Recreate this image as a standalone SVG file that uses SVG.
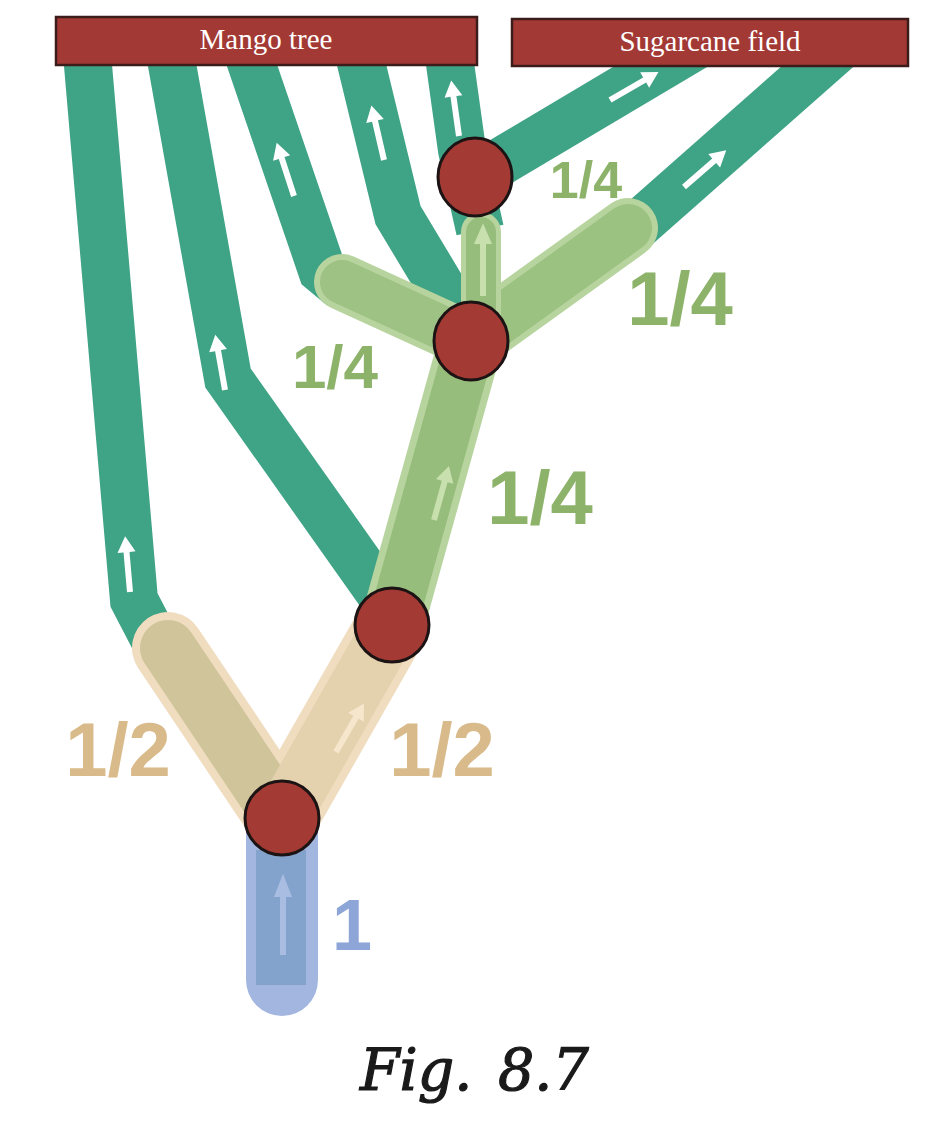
<svg xmlns="http://www.w3.org/2000/svg" xmlns:xlink="http://www.w3.org/1999/xlink" width="944" height="1133" viewBox="0 0 944 1133">
<style>
.teal{fill:none;stroke:#3fa386;stroke-width:48;stroke-linejoin:miter;stroke-linecap:butt}
.tanO{fill:none;stroke:#f0dcbf;stroke-width:72;stroke-linecap:round}
.tanI{fill:none;stroke:#d6c69d;stroke-width:56;stroke-linecap:round}
.grnO{fill:none;stroke:#b7d49f;stroke-linecap:round}
.grnI{fill:none;stroke:#96bd7c;stroke-linecap:round}
.node{fill:#a33a34;stroke:#1c1414;stroke-width:3}
.box{fill:#a33934;stroke:#3b1c1a;stroke-width:2.5}
.boxt{font-family:"Liberation Serif","DejaVu Serif",serif;font-size:29px;fill:#ffffff;text-anchor:middle}
.frac{font-family:"Liberation Sans",Arial,sans-serif;font-weight:bold;text-anchor:middle}
.g{fill:#8db36a}
.t{fill:#d9ba8a}
.b{fill:#8ea5d8}
</style>
<defs>
<path id="arr" d="M-3,0 L-3,-40 L-9,-40 L0,-56 L9,-40 L3,-40 L3,0 Z"/>
</defs>

<g id="connectors">
  <!-- teal flows -->
  <polyline class="teal" points="86,42 134,600 160,650"/>
  <polyline class="teal" points="168,42 228,378 385,600"/>
  <polyline class="teal" points="244,42 322,270 340,285"/>
  <polyline class="teal" points="356,42 398,215 455,310"/>
  <polyline class="teal" points="447,42 462,150 480,230"/>
  <polyline class="teal" points="475,177 702,42"/>
  <polyline class="teal" points="630,232 843,44"/>

  <!-- tan branches -->
  <line class="tanO" x1="282" y1="818" x2="168" y2="648"/>
  <line class="tanO" x1="282" y1="818" x2="392" y2="625"/>
  <line class="tanI" x1="282" y1="818" x2="168" y2="648" style="stroke:#cfc49a"/>
  <line class="tanI" x1="282" y1="818" x2="392" y2="625" style="stroke:#e4d2ae"/>

  <!-- green branches -->
  <line class="grnO" x1="392" y1="625" x2="471" y2="341" stroke-width="64"/>
  <line class="grnI" x1="392" y1="625" x2="471" y2="341" stroke-width="50"/>
  <line class="grnO" x1="471" y1="341" x2="342" y2="282" stroke-width="56"/>
  <line class="grnI" x1="471" y1="341" x2="342" y2="282" stroke-width="44" style="stroke:#9dc283"/>
  <line class="grnO" x1="471" y1="341" x2="628" y2="228" stroke-width="60"/>
  <line class="grnI" x1="471" y1="341" x2="628" y2="228" stroke-width="48" style="stroke:#9cc282"/>
  <line class="grnO" x1="481" y1="341" x2="481" y2="232" stroke-width="40"/>
  <line class="grnI" x1="481" y1="341" x2="481" y2="232" stroke-width="30"/>

  <!-- blue stem -->
  <path d="M246,818 L246,980 A36,36 0 0 0 318,980 L318,818 Z" fill="#a3b6e0"/>
  <rect x="256" y="850" width="50" height="135" fill="#84a3cc"/>

  <!-- arrows -->
  <g fill="#ffffff">
    <use xlink:href="#arr" transform="translate(130,592) rotate(-5)"/>
    <use xlink:href="#arr" transform="translate(225,390) rotate(-10)"/>
    <use xlink:href="#arr" transform="translate(294,196) rotate(-18)"/>
    <use xlink:href="#arr" transform="translate(384,160) rotate(-13)"/>
    <use xlink:href="#arr" transform="translate(459,136) rotate(-8)"/>
    <use xlink:href="#arr" transform="translate(610,100) rotate(60)"/>
    <use xlink:href="#arr" transform="translate(684,187) rotate(49)"/>
  </g>
  <use xlink:href="#arr" transform="translate(434,520) rotate(15.5)" fill="#c8dfae"/>
  <use xlink:href="#arr" transform="translate(483,296) scale(1,1.3)" fill="#c8dfae"/>
  <use xlink:href="#arr" transform="translate(336,752) rotate(30)" fill="#f5e6cc"/>
  <use xlink:href="#arr" transform="translate(283,955) scale(1,1.45)" fill="#a9bde2"/>
</g>

<g id="mango-tree">
  <rect class="box" x="56" y="17" width="421" height="48"/>
  <text class="boxt" x="266" y="49">Mango tree</text>
</g>
<g id="sugarcane-field">
  <rect class="box" x="512" y="19" width="396" height="47"/>
  <text class="boxt" x="710" y="51">Sugarcane field</text>
</g>

<g id="node1"><circle class="node" cx="282" cy="818" r="37"/></g>
<g id="node2"><circle class="node" cx="392" cy="625" r="37"/></g>
<g id="node3"><ellipse class="node" cx="471" cy="341" rx="37" ry="39"/></g>
<g id="node4"><ellipse class="node" cx="475" cy="177" rx="37" ry="39"/></g>

<g id="labels">
  <text class="frac b" x="352" y="950" font-size="72">1</text>
  <text class="frac t" x="118" y="776" font-size="76">1/2</text>
  <text class="frac t" x="442" y="776" font-size="76">1/2</text>
  <text class="frac g" x="540" y="524" font-size="76">1/4</text>
  <text class="frac g" x="335" y="388" font-size="62">1/4</text>
  <text class="frac g" x="680" y="325" font-size="76">1/4</text>
  <text class="frac g" x="586" y="198" font-size="52">1/4</text>
</g>

<g id="caption">
  <text x="360" y="1090" font-family="'DejaVu Serif','Liberation Serif',serif" font-style="italic" font-size="57" fill="#1a1a1a" stroke="#1a1a1a" stroke-width="1.2">Fig. <tspan x="498">8.7</tspan></text>
</g>
</svg>
